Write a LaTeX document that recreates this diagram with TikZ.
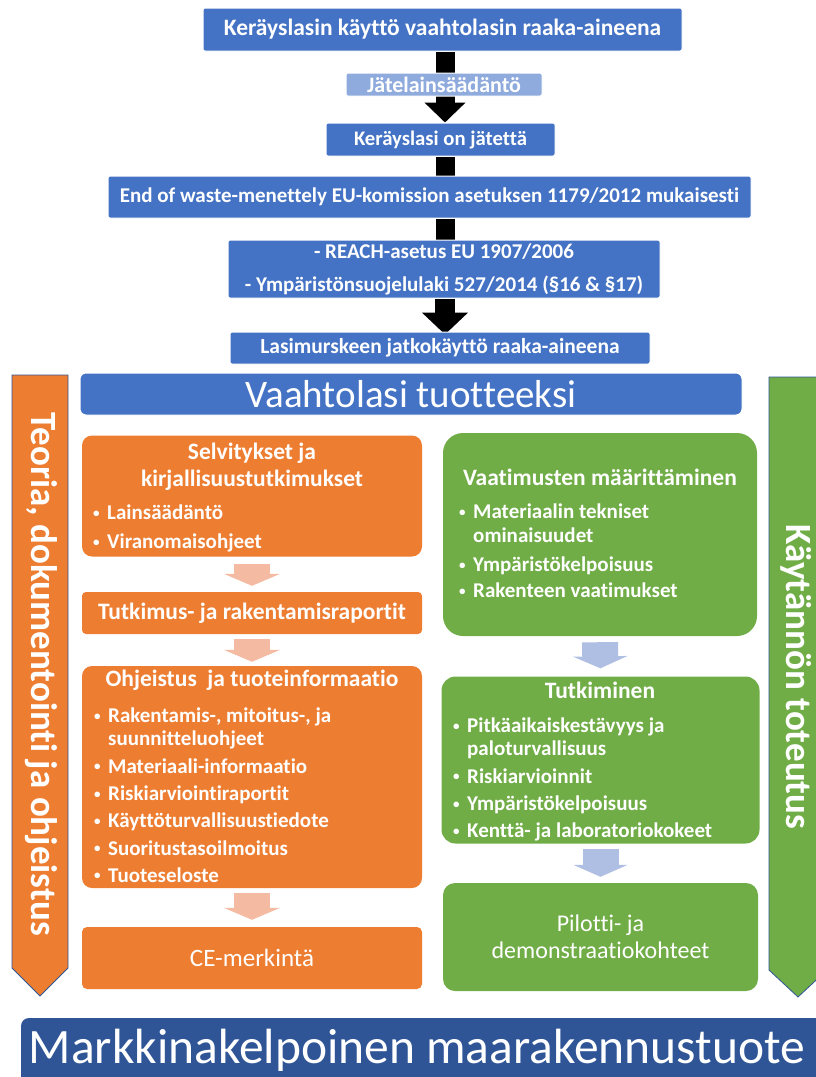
\documentclass[tikz,border=0pt]{standalone}
\usepackage{fontspec}
\setmainfont{Carlito}[Ligatures=NoCommon]
\usetikzlibrary{arrows.meta,backgrounds}
\definecolor{cblue}{HTML}{4472C4}
\definecolor{lblue}{HTML}{8FAADC}
\definecolor{dblue}{HTML}{2F5597}
\definecolor{corange}{HTML}{ED7D31}
\definecolor{cgreen}{HTML}{70AD47}
\definecolor{salmon}{HTML}{F5BBA2}
\definecolor{pblue}{HTML}{AEBFE3}
\newcommand{\fs}[1]{\fontsize{#1}{#1}\selectfont}
\newcommand{\bl}{\makebox[14pt][l]{\raisebox{0.12em}{\scalebox{0.62}{\textbullet}}}}
\newcommand{\ind}{\hspace*{14pt}}
\begin{document}
\begin{tikzpicture}[x=1pt,y=-1pt,
  topbox/.style={fill=cblue, draw=white, line width=1pt, rounded corners=2pt, text=white, inner sep=0pt, align=center, font=\fs{21}\bfseries},
  obox/.style={fill=corange, rounded corners=10pt, inner sep=0pt},
  gbox/.style={fill=cgreen, rounded corners=14pt, inner sep=0pt},
  ttl/.style={text=white, align=center, inner sep=0pt, font=\fontsize{23.5}{27}\selectfont\bfseries},
  lst/.style={text=white, align=left, inner sep=0pt, anchor=north west, font=\fontsize{21}{23}\selectfont\bfseries},
  blkarrow/.style={line width=19pt, black},
  sarrow/.style={line width=36pt, salmon, -{Triangle[width=56pt,length=12pt]}},
  parrow/.style={line width=36pt, pblue, -{Triangle[width=54pt,length=12pt]}},
  sidearrow/.style={draw=dblue, line width=0.8pt},
  sidetext/.style={text=white, rotate=-90, inner sep=0pt, font=\fs{37}\bfseries}
]
\useasboundingbox (0,0) rectangle (816,1077);
\clip (0,0) rectangle (816,1077);

% top chain
\node[topbox, minimum width=479pt, minimum height=43pt, font=\fs{23.5}\bfseries] (b1) at (442.5,29.5) {Keräyslasin käyttö vaahtolasin raaka-aineena};
\node[topbox, fill=lblue, minimum width=196pt, minimum height=23pt, font=\fs{22}\bfseries] (jl) at (444,84.5) {Jätelainsäädäntö};
\node[topbox, minimum width=229pt, minimum height=33pt, font=\fs{20.7}\bfseries] (b3) at (440.5,139.5) {Keräyslasi on jätettä};
\node[topbox, minimum width=643pt, minimum height=42pt] (b4) at (429.5,197) {End of waste-menettely EU-komission asetuksen 1179/2012 mukaisesti};
\node[topbox, minimum width=432pt, minimum height=58pt, font=\fontsize{21}{33}\selectfont\bfseries] (b5) at (444,269) {- REACH-asetus EU 1907/2006\\- Ympäristönsuojelulaki 527/2014 (§16 \& §17)};
\node[topbox, minimum width=420pt, minimum height=32pt, font=\fs{21.5}\bfseries] (b6) at (440,348) {Lasimurskeen jatkokäyttö raaka-aineena};

\begin{pgfonlayer}{background}
\draw[blkarrow, -{Triangle[width=40pt,length=20pt]}] (b1.south -| 445,0) -- (b3.north -| 445,0);
\draw[blkarrow] (b3.south -| 445,0) -- (b4.north -| 445,0);
\draw[blkarrow] (b4.south -| 445,0) -- (b5.north -| 445,0);
\draw[line width=20pt, -{Triangle[width=45pt,length=22pt]}] (b5.south -| 445,0) -- ([yshift=-3pt]b6.north -| 445,0);
\end{pgfonlayer}

% main title bar
\node[fill=cblue, draw=white, line width=1pt, rounded corners=6pt, minimum width=662pt, minimum height=42pt, text=white, font=\fs{39}] (vt) at (411,394) {Vaahtolasi tuotteeksi};

% side arrows
\path[sidearrow, fill=corange] (12,375) -- (68,375) -- (68,968) -- (40,996) -- (12,968) -- cycle;
\node[sidetext] (lt) at (41,674) {Teoria, dokumentointi ja ohjeistus};
\path[sidearrow, fill=cgreen] (769,377) -- (827,377) -- (827,970) -- (798,997) -- (769,970) -- cycle;
\node[sidetext] (rt) at (796,677) {Käytännön toteutus};

% orange column
\node[obox, minimum width=340pt, minimum height=121pt] (o1) at (252,496) {};
\node[ttl] (o1t) at (252,466.5) {Selvitykset ja\\kirjallisuustutkimukset};
\node[lst] (o1l) at (93,505) {\bl Lainsäädäntö\\[6pt]\bl Viranomaisohjeet};
\node[obox, rounded corners=4pt, minimum width=340pt, minimum height=42pt, text=white, font=\fs{23.5}\bfseries] (o2) at (252,613) {Tutkimus- ja rakentamisraportit};
\node[obox, minimum width=340pt, minimum height=222pt] (o3) at (252,777) {};
\node[ttl] (o3t) at (252,680) {Ohjeistus\ \ ja tuoteinformaatio};
\node[lst] (o3l) at (94,708) {\bl Rakentamis-, mitoitus-, ja\\\ind suunnitteluohjeet\\[4.3pt]\bl Materiaali-informaatio\\[4.3pt]\bl Riskiarviointiraportit\\[4.3pt]\bl Käyttöturvallisuustiedote\\[4.3pt]\bl Suoritustasoilmoitus\\[4.3pt]\bl Tuoteseloste};
\node[obox, rounded corners=5pt, minimum width=340pt, minimum height=62pt, text=white, font=\fs{25}] (o4) at (252,958) {CE-merkintä};
\draw[sarrow, shorten <=7pt, shorten >=6pt] (o1.south) -- (o2.north);
\draw[sarrow, shorten <=5pt, shorten >=4pt] (o2.south) -- (o3.north);
\draw[sarrow, shorten <=5pt, shorten >=7pt] (o3.south) -- (o4.north);

% green column
\node[gbox, rounded corners=20pt, minimum width=314pt, minimum height=203pt] (g1) at (600,534.5) {};
\node[ttl] (g1t) at (600,477) {Vaatimusten määrittäminen};
\node[lst, font=\fontsize{21}{24}\selectfont\bfseries] (g1l) at (459,504) {\bl Materiaalin tekniset\\\ind ominaisuudet\\[5pt]\bl Ympäristökelpoisuus\\[2pt]\bl Rakenteen vaatimukset};
\node[gbox, minimum width=318pt, minimum height=167pt] (g2) at (600.5,760) {};
\node[ttl] (g2t) at (600,690) {Tutkiminen};
\node[lst] (g2l) at (453,718) {\bl Pitkäaikaiskestävyys ja\\\ind paloturvallisuus\\[4.3pt]\bl Riskiarvioinnit\\[4.3pt]\bl Ympäristökelpoisuus\\[4.3pt]\bl Kenttä- ja laboratoriokokeet};
\node[gbox, rounded corners=12pt, minimum width=315pt, minimum height=108pt, text=white, align=center, font=\fontsize{24}{27}\selectfont] (g3) at (600.5,937) {Pilotti- ja\\demonstraatiokohteet};
\draw[parrow, shorten <=6pt, shorten >=8pt] (g1.south) -- (g2.north);
\draw[parrow, shorten <=5pt, shorten >=6pt] (g2.south) -- (g3.north);

% bottom bar
\node[fill=dblue, rounded corners=8pt, minimum width=830pt, minimum height=66pt, inner sep=0pt] (mk) at (436,1051) {};
\node[text=white, inner sep=0pt, font=\fs{49.5}] (mkt) at (417,1050) {Markkinakelpoinen maarakennustuote};
\end{tikzpicture}
\end{document}
